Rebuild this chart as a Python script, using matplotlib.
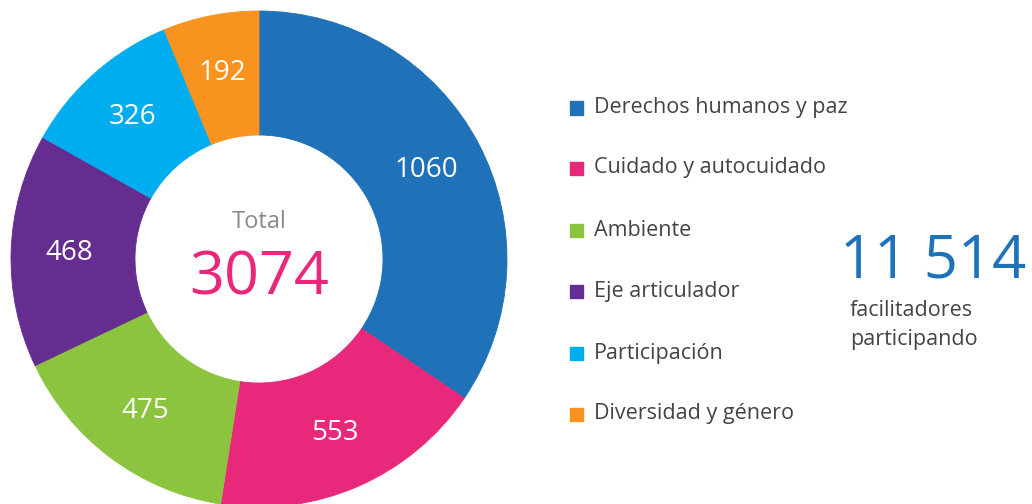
import matplotlib.pyplot as plt
import numpy as np

# Data
categories = ['Derechos humanos y paz', 'Cuidado y autocuidado', 'Ambiente',
              'Eje articulador', 'Participación', 'Diversidad y género']
values = [1060, 553, 475, 468, 326, 192]
colors = ['#1f71b8', '#e8287a', '#8cc43f', '#662d91', '#00adee', '#f7931e']
total_label = 'Total'
total_value = '3074'
facilitators = '11 514'
facilitators_text = 'facilitadores\nparticipando'

plt.rcParams['font.family'] = ['Open Sans', 'DejaVu Sans']

fig = plt.figure(figsize=(10.32, 5.04), dpi=100)
W, H = 1032, 504
cx, cy, R = 259, 259, 248
ax = fig.add_axes([(cx - R) / W, (H - cy - R) / H, 2 * R / W, 2 * R / H])

wedges, _ = ax.pie(values, colors=colors, startangle=90, counterclock=False,
                   radius=1, wedgeprops=dict(width=0.5, linewidth=0))
for w in wedges:
    # thin edge in the wedge's own colour hides antialias seams
    w.set_edgecolor(w.get_facecolor())
    w.set_linewidth(0.6)
ax.set_xlim(-1, 1)
ax.set_ylim(-1, 1)
ax.set_aspect('equal')
ax.axis('off')

# value labels inside each wedge
for w, v in zip(wedges, values):
    ang = np.deg2rad((w.theta1 + w.theta2) / 2)
    ax.text(0.765 * np.cos(ang), 0.765 * np.sin(ang), str(v), color='white',
            fontsize=20, ha='center', va='center')

# center text
ax.text(0, 0.15, total_label, color='#8a8a8a', fontsize=17, ha='center', va='center')
ax.text(0, -0.08, total_value, color='#e8287a', fontsize=44, ha='center', va='center')

# legend
ys = [108, 168, 230, 291, 353, 414]
for cat, col, y in zip(categories, colors, ys):
    fig.patches.append(plt.Rectangle((570 / W, (H - y - 6.5) / H), 13 / W, 13 / H,
                                     transform=fig.transFigure, color=col))
    fig.text(594 / W, (H - y) / H, cat, color='#444444', fontsize=15.5,
             ha='left', va='center')

# facilitators
fig.text(1026 / W, (H - 262) / H, facilitators, color='#1f71b8', fontsize=43,
         ha='right', va='center')
fig.text(850 / W, (H - 325) / H, facilitators_text, color='#444444', fontsize=15.5,
         ha='left', va='center', linespacing=1.5)

fig.savefig('out.png', dpi=100)
